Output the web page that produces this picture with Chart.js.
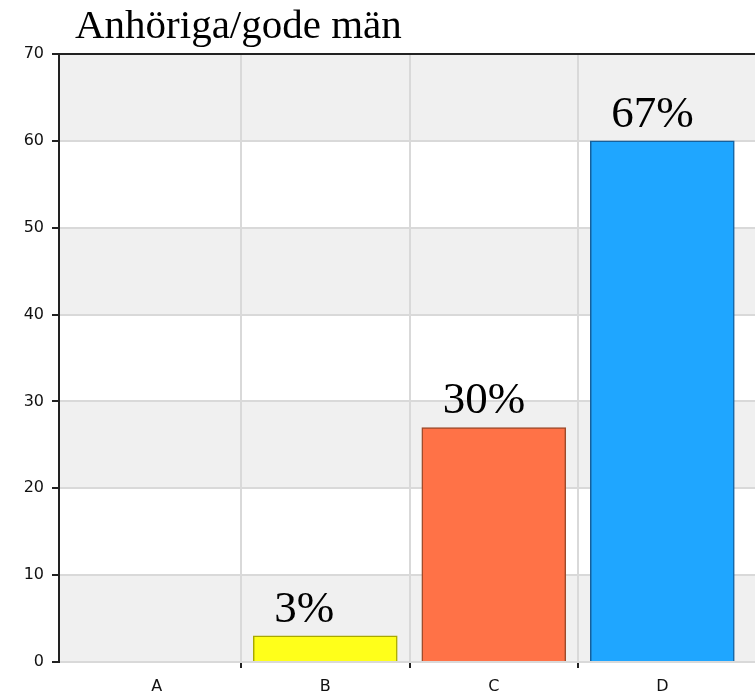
<!DOCTYPE html>
<html>
<head>
<meta charset="utf-8">
<script src="https://cdn.jsdelivr.net/npm/chart.js@4"></script>
<style>
  body { margin: 0; background: #fff; }
  #wrap { width: 755px; height: 700px; position: relative; }
</style>
</head>
<body>
<div id="wrap"><canvas id="chart"></canvas></div>
<script>
var chartTitle = 'Anhöriga/gode män';
var categories = ['A', 'B', 'C', 'D'];
var counts = [0, 3, 27, 60];
var yTicks = [0, 10, 20, 30, 40, 50, 60, 70];
var fills = ['#ffff1a', '#ffff1a', '#ff7247', '#1fa6ff'];
var borders = ['#a8a800', '#a8a800', '#9c4a2a', '#16609c'];

var total = counts.reduce(function (a, b) { return a + b; }, 0);

// grey bands behind every other grid step
var bandsPlugin = {
  id: 'bands',
  beforeDraw: function (chart) {
    var ctx = chart.ctx, area = chart.chartArea, y = chart.scales.y;
    ctx.save();
    ctx.fillStyle = '#f0f0f0';
    for (var i = 0; i < yTicks.length - 1; i += 2) {
      var top = y.getPixelForValue(yTicks[i + 1]);
      var bot = y.getPixelForValue(yTicks[i]);
      ctx.fillRect(area.left, top, area.right - area.left, bot - top);
    }
    ctx.restore();
  }
};

// title + percentage labels over bars
var labelsPlugin = {
  id: 'pctLabels',
  afterDraw: function (chart) {
    var ctx = chart.ctx;
    ctx.save();
    ctx.fillStyle = '#000';
    ctx.textBaseline = 'alphabetic';
    ctx.textAlign = 'left';
    ctx.font = '41px "Liberation Serif", "Times New Roman", serif';
    ctx.fillText(chartTitle, 75, 38);
    ctx.font = '45px "Liberation Serif", "Times New Roman", serif';
    chart.getDatasetMeta(0).data.forEach(function (bar, i) {
      if (!counts[i]) return;
      var txt = Math.round(counts[i] / total * 100) + '%';
      ctx.fillText(txt, bar.x - bar.width / 2 + 21, bar.y - 14);
    });
    ctx.restore();
  }
};

var isEdge = function (v) { return Math.abs(v % 1) === 0.5; };

new Chart(document.getElementById('chart').getContext('2d'), {
  type: 'bar',
  data: {
    datasets: [{
      data: counts.map(function (v, i) { return { x: i, y: v }; }),
      backgroundColor: fills,
      borderColor: borders,
      borderWidth: 1.5,
      barThickness: 144
    }]
  },
  options: {
    responsive: true,
    maintainAspectRatio: false,
    animation: false,
    layout: { padding: { top: 54, left: 0, right: 0, bottom: 0 } },
    plugins: { legend: { display: false }, tooltip: { enabled: false } },
    scales: {
      x: {
        type: 'linear',
        offset: false,
        min: -0.58,
        max: 3.55,
        afterBuildTicks: function (s) {
          s.ticks = [0, 0.5, 1, 1.5, 2, 2.5, 3].map(function (v) { return { value: v }; });
        },
        afterFit: function (s) { s.height = 38; },
        border: { display: false },
        grid: {
          offset: false,
          color: function (c) { return c.tick && isEdge(c.tick.value) ? '#d9d9d9' : 'rgba(0,0,0,0)'; },
          tickColor: function (c) { return c.tick && isEdge(c.tick.value) ? '#222' : 'rgba(0,0,0,0)'; },
          tickLength: 6,
          lineWidth: 2,
          tickWidth: 2
        },
        ticks: {
          autoSkip: false,
          maxRotation: 0,
          padding: 9,
          color: '#111',
          font: { family: '"DejaVu Sans", sans-serif', size: 16 },
          callback: function (v) { return v % 1 === 0 ? categories[v] : ''; }
        }
      },
      y: {
        min: 0,
        max: 70,
        afterBuildTicks: function (s) {
          s.ticks = yTicks.map(function (v) { return { value: v }; });
        },
        afterFit: function (s) { s.width = 59; },
        border: { display: true, color: '#222', width: 2 },
        grid: {
          color: function (c) { return c.tick && c.tick.value === 70 ? '#222' : '#d9d9d9'; },
          lineWidth: 2,
          tickColor: '#222',
          tickLength: 7,
          tickWidth: 2
        },
        ticks: {
          padding: 8,
          color: '#111',
          font: { family: '"DejaVu Sans", sans-serif', size: 16 }
        }
      }
    }
  },
  plugins: [bandsPlugin, labelsPlugin]
});
</script>
</body>
</html>
